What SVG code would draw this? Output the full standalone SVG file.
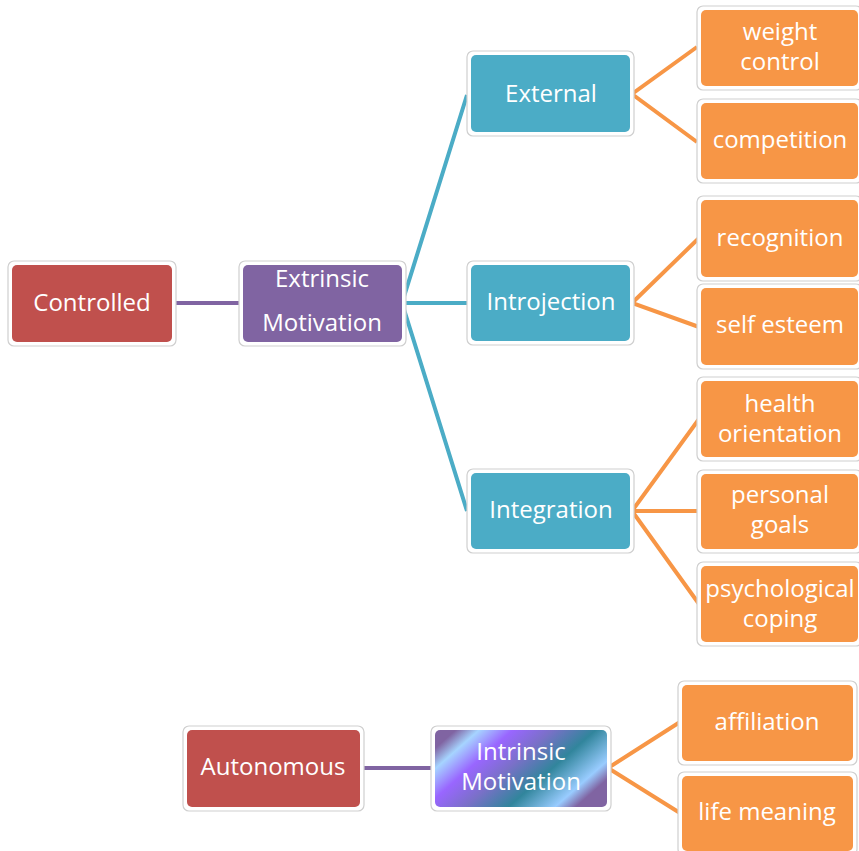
<svg xmlns="http://www.w3.org/2000/svg" width="859" height="851" viewBox="0 0 859 851">
<defs>
<style>
.o{fill:#fff;stroke:#cfcfcf;stroke-width:1.2}
.red{fill:#C0504D}.pur{fill:#8064A2}.blu{fill:#4BACC6}.org{fill:#F79646}
text{font-family:"Open Sans","Liberation Sans",sans-serif;font-size:24px;fill:#fff;text-anchor:middle}
.cp{stroke:#8064A2;stroke-width:4;fill:none}
.cb{stroke:#4BACC6;stroke-width:4;fill:none}
.co{stroke:#F79646;stroke-width:4;fill:none;stroke-linejoin:miter}
</style>
<linearGradient id="ig" gradientUnits="userSpaceOnUse" x1="435" y1="730" x2="548.5" y2="858.5">
<stop offset="0" stop-color="#8064A2"/>
<stop offset="0.08" stop-color="#8064A2"/>
<stop offset="0.17" stop-color="#A6D4FF"/>
<stop offset="0.3" stop-color="#9966FF"/>
<stop offset="0.45" stop-color="#7A70C8"/>
<stop offset="0.62" stop-color="#31859C"/>
<stop offset="0.8" stop-color="#99CCFF"/>
<stop offset="0.88" stop-color="#8064A2"/>
<stop offset="1" stop-color="#8064A2"/>
</linearGradient>
</defs>
<rect width="859" height="851" fill="#fff"/>
<g id="connectors">
<path class="cp" d="M176 303H239"/>
<path class="cp" d="M364 768H432"/>
<path class="cb" d="M467 95L402 303L467 511M402 303H467"/>
<path class="co" d="M697 47L632 94L697 142"/>
<path class="co" d="M699 238L632 303L699 327"/>
<path class="co" d="M699 419L632 511L699 604M632 511H699"/>
<path class="co" d="M680 722L608 768L680 813"/>
</g>
<g id="controlled"><rect class="o" x="8" y="261" width="168" height="85" rx="6"/><rect class="red" x="12" y="265" width="160" height="77" rx="5"/><text x="92" y="311">Controlled</text></g>
<g id="extrinsic"><rect class="o" x="239" y="261" width="167" height="85" rx="6"/><rect class="pur" x="243" y="265" width="159" height="77" rx="5"/><text x="322" y="287">Extrinsic</text><text x="322" y="331">Motivation</text></g>
<g id="external"><rect class="o" x="467" y="51" width="167" height="85" rx="6"/><rect class="blu" x="471" y="55" width="159" height="77" rx="5"/><text x="551" y="102">External</text></g>
<g id="introjection"><rect class="o" x="467" y="261" width="167" height="84" rx="6"/><rect class="blu" x="471" y="265" width="159" height="76" rx="5"/><text x="551" y="310">Introjection</text></g>
<g id="integration"><rect class="o" x="467" y="469" width="167" height="84" rx="6"/><rect class="blu" x="471" y="473" width="159" height="76" rx="5"/><text x="551" y="518">Integration</text></g>
<g id="weight"><rect class="o" x="697" y="6" width="165" height="84" rx="6"/><rect class="org" x="701" y="10" width="157" height="76" rx="5"/><text x="780" y="40">weight</text><text x="780" y="70">control</text></g>
<g id="competition"><rect class="o" x="697" y="99" width="165" height="84" rx="6"/><rect class="org" x="701" y="103" width="157" height="76" rx="5"/><text x="780" y="148">competition</text></g>
<g id="recognition"><rect class="o" x="697" y="196" width="165" height="85" rx="6"/><rect class="org" x="701" y="200" width="157" height="77" rx="5"/><text x="780" y="246">recognition</text></g>
<g id="selfesteem"><rect class="o" x="697" y="284" width="165" height="85" rx="6"/><rect class="org" x="701" y="288" width="157" height="77" rx="5"/><text x="780" y="333">self esteem</text></g>
<g id="health"><rect class="o" x="697" y="377" width="165" height="84" rx="6"/><rect class="org" x="701" y="381" width="157" height="76" rx="5"/><text x="780" y="412">health</text><text x="780" y="442">orientation</text></g>
<g id="personal"><rect class="o" x="697" y="470" width="165" height="83" rx="6"/><rect class="org" x="701" y="474" width="157" height="75" rx="5"/><text x="780" y="503">personal</text><text x="780" y="533">goals</text></g>
<g id="psychological"><rect class="o" x="697" y="562" width="165" height="84" rx="6"/><rect class="org" x="701" y="566" width="157" height="76" rx="5"/><text x="780" y="597">psychological</text><text x="780" y="627">coping</text></g>
<g id="autonomous"><rect class="o" x="183" y="726" width="181" height="85" rx="6"/><rect class="red" x="187" y="730" width="173" height="77" rx="5"/><text x="273" y="775">Autonomous</text></g>
<g id="intrinsic"><rect class="o" x="431" y="726" width="180" height="85" rx="6"/><rect x="435" y="730" width="172" height="77" rx="5" fill="url(#ig)"/><text x="521" y="760">Intrinsic</text><text x="521" y="790">Motivation</text></g>
<g id="affiliation"><rect class="o" x="678" y="681" width="179" height="84" rx="6"/><rect class="org" x="682" y="685" width="171" height="76" rx="5"/><text x="767" y="730">affiliation</text></g>
<g id="lifemeaning"><rect class="o" x="678" y="772" width="179" height="83" rx="6"/><rect class="org" x="682" y="776" width="171" height="75" rx="5"/><text x="767" y="820">life meaning</text></g>
</svg>
